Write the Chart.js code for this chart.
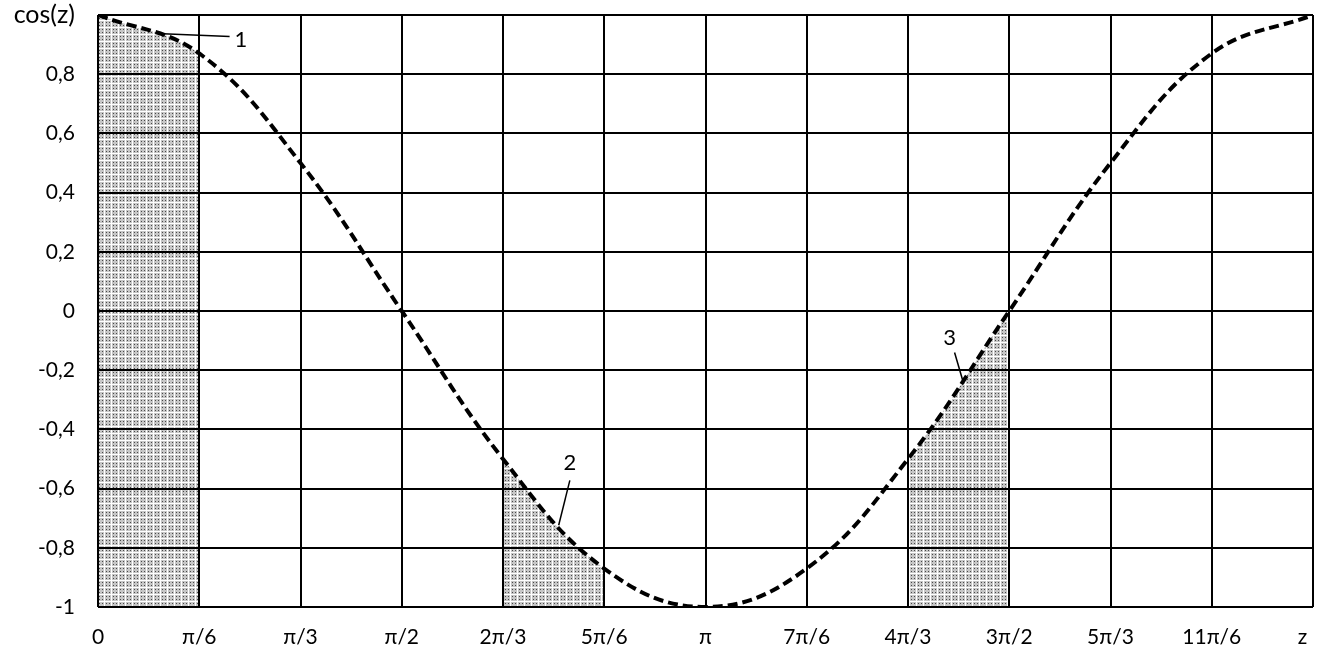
<!DOCTYPE html>
<html>
<head>
<meta charset="utf-8">
<script src="https://cdn.jsdelivr.net/npm/chart.js@4"></script>
<style>
  html, body { margin: 0; padding: 0; background: #fff; }
  #wrap { width: 1320px; height: 647px; }
</style>
</head>
<body>
<div id="wrap"><canvas id="cos_chart"></canvas></div>
<script>
// data
const zLabels = ['0', 'π/6', 'π/3', 'π/2', '2π/3', '5π/6', 'π', '7π/6', '4π/3', '3π/2', '5π/3', '11π/6', 'z'];
const cosValues = [1, 0.87, 0.5, 0, -0.5, -0.87, -1, -0.87, -0.5, 0, 0.5, 0.87, 1];
const shadedRanges = [[0, 1], [4, 5], [8, 9]]; // category index from..to
const calloutNames = ['1', '2', '3'];

// where the callouts sit, in axis units (x = category index, y = value)
const calloutPlaces = [
  { text: [1.41, 0.915], from: [1.30, 0.927], to: [0.64, 0.937] },
  { text: [4.66, -0.513], from: [4.66, -0.572], to: [4.55, -0.724] },
  { text: [8.41, -0.092], from: [8.46, -0.140], to: [8.54, -0.234] }
];

const FONT = 'Lato, "Open Sans", sans-serif';

//dotted grey fill like the original
function dotPattern(ctx) {
  const tile = document.createElement('canvas');
  tile.width = 7; tile.height = 7;
  const t = tile.getContext('2d');
  t.fillStyle = '#ffffff';
  t.fillRect(0, 0, 7, 7);
  [[1, 1], [4, 1], [1, 4], [4, 4]].forEach(([x, y]) => {
    t.fillStyle = '#c6c6c6';
    t.fillRect(x - 1, y - 1, 3, 3);
    t.fillStyle = '#4a4a4a';
    t.fillRect(x, y, 1, 1);
  });
  return ctx.createPattern(tile, 'repeat');
}

const shadePlugin = {
  id: 'shade',
  beforeDatasetsDraw(chart) {
    const ctx = chart.ctx, area = chart.chartArea;
    const line = chart.getDatasetMeta(0).dataset;
    const xs = chart.scales.x;
    line.updateControlPoints(area, 'x');
    ctx.save();
    ctx.fillStyle = dotPattern(ctx);
    shadedRanges.forEach(([a, b]) => {
      const x0 = xs.getPixelForValue(a), x1 = xs.getPixelForValue(b);
      ctx.save();
      ctx.beginPath();
      ctx.rect(x0, area.top - 2, x1 - x0, area.bottom - area.top + 2);
      ctx.clip();
      ctx.beginPath();
      line.path(ctx);
      ctx.lineTo(area.right, area.bottom);
      ctx.lineTo(area.left, area.bottom);
      ctx.closePath();
      ctx.fill();
      ctx.restore();
    });
    ctx.restore();
  }
};

const calloutPlugin = {
  id: 'callouts',
  afterDraw(chart) {
    const ctx = chart.ctx, xs = chart.scales.x, ys = chart.scales.y;
    const px = p => [xs.getPixelForValue(p[0]), ys.getPixelForValue(p[1])];
    ctx.save();
    ctx.strokeStyle = '#000';
    ctx.lineWidth = 1.5;
    ctx.fillStyle = '#000';
    ctx.font = '22px ' + FONT;
    ctx.textAlign = 'center';
    ctx.textBaseline = 'middle';
    calloutNames.forEach((name, i) => {
      const c = calloutPlaces[i];
      const a = px(c.from), b = px(c.to), t = px(c.text);
      ctx.beginPath();
      ctx.moveTo(a[0], a[1]);
      ctx.lineTo(b[0], b[1]);
      ctx.stroke();
      ctx.fillText(name, t[0], t[1]);
    });
    ctx.restore();
  }
};

function commaLabel(v) {
  if (Math.abs(v - 1) < 1e-6) return 'cos(z)';
  const r = Math.round(v * 10) / 10;
  if (Number.isInteger(r)) return String(r);
  return r.toFixed(1).replace('.', ',');
}

const ctx = document.getElementById('cos_chart').getContext('2d');
new Chart(ctx, {
  type: 'line',
  data: {
    labels: zLabels,
    datasets: [{
      label: 'cos(z)',
      data: cosValues,
      fill: false,
      borderColor: '#000',
      borderWidth: 4,
      borderDash: [10, 5],
      tension: 0.4,
      pointRadius: 0
    }]
  },
  options: {
    responsive: true,
    maintainAspectRatio: false,
    animation: false,
    events: [],
    layout: { padding: { top: 15, right: 7, left: 0, bottom: 0 } },
    plugins: { legend: { display: false }, tooltip: { enabled: false } },
    scales: {
      x: {
        offset: false,
        afterFit: s => { s.height = 40; s.paddingLeft = 0; s.paddingRight = 0; },
        grid: { color: '#000', lineWidth: 2, drawTicks: false, z: 1 },
        border: { display: false },
        ticks: {
          color: '#000', padding: 18, maxRotation: 0, autoSkip: false,
          // last label sits a bit inside the edge, like the original
          callback: (v, i) => i === zLabels.length - 1 ? zLabels[i] + '\u2002\u2002' : zLabels[i],
          font: { family: FONT, size: 21 }
        }
      },
      y: {
        min: -1, max: 1,
        afterFit: s => { s.width = 98; s.paddingTop = 0; s.paddingBottom = 0; },
        grid: { color: '#000', lineWidth: 2, drawTicks: false, z: 1 },
        border: { display: false },
        ticks: {
          stepSize: 0.2, color: '#000', padding: 23,
          callback: v => commaLabel(v),
          font: c => ({ family: FONT, size: (c.tick && Math.abs(c.tick.value - 1) < 1e-6) ? 25 : 21 })
        }
      }
    }
  },
  plugins: [shadePlugin, calloutPlugin]
});
</script>
</body>
</html>
